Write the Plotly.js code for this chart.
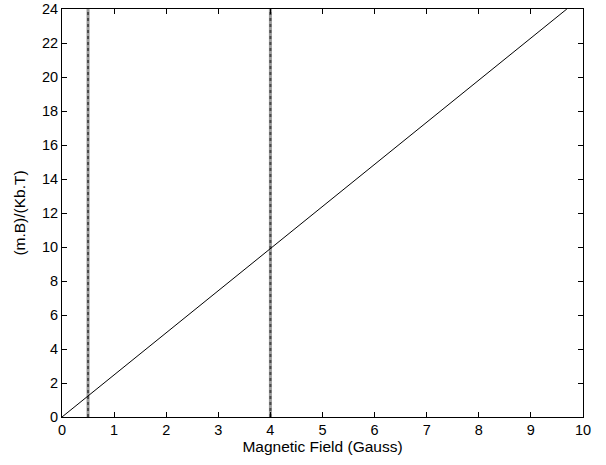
<!DOCTYPE html>
<html>
<head>
<meta charset="utf-8">
<script src="https://cdn.plot.ly/plotly-3.0.1.min.js"></script>
<style>html,body{margin:0;padding:0;background:#fff;}#chart{width:606px;height:465px;}</style>
</head>
<body>
<div id="chart"></div>
<script>
// Data
const fieldX = [0, 1, 2, 3, 4, 5, 6, 7, 8, 9, 9.69];
const ratioY = [0, 2.48, 4.95, 7.43, 9.9, 12.38, 14.86, 17.34, 19.82, 22.3, 24];
const markerFields = [0.5, 4];
const yTop = 24;
const xTicks = [0, 1, 2, 3, 4, 5, 6, 7, 8, 9, 10];
const yTicks = [0, 2, 4, 6, 8, 10, 12, 14, 16, 18, 20, 22, 24];

const traces = [];
markerFields.forEach(f => {
  traces.push({x: [f, f], y: [0, yTop], mode: 'lines', line: {color: '#9a9a9a', width: 3}, hoverinfo: 'skip', showlegend: false});
  traces.push({x: [f, f], y: [0, yTop], mode: 'lines', line: {color: '#4a4a4a', width: 2, dash: 'dot'}, hoverinfo: 'skip', showlegend: false});
});
traces.push({x: fieldX, y: ratioY, mode: 'lines', line: {color: '#000', width: 1}, showlegend: false});

const tickFont = {family: 'Liberation Sans, Arial, sans-serif', size: 14.5, color: '#000'};
const titleFont = {family: 'Liberation Sans, Arial, sans-serif', size: 15.5, color: '#000'};
const layout = {
  width: 606, height: 465,
  margin: {l: 62, r: 23, t: 9, b: 48},
  paper_bgcolor: '#fff', plot_bgcolor: '#fff',
  font: tickFont,
  showlegend: false,
  xaxis: {
    range: [0, 10], tickvals: xTicks, ticktext: xTicks.map(String),
    ticks: 'inside', ticklen: 5, tickcolor: '#000', mirror: 'allticks',
    showline: true, linecolor: '#000', linewidth: 1, showgrid: false, zeroline: false,
    tickfont: tickFont, ticklabeloverflow: 'allow',
    title: {text: 'Magnetic Field (Gauss)', font: titleFont, standoff: 2}
  },
  yaxis: {
    range: [0, 24], tickvals: yTicks, ticktext: yTicks.map(String),
    ticks: 'inside', ticklen: 5, tickcolor: '#000', mirror: 'allticks',
    showline: true, linecolor: '#000', linewidth: 1, showgrid: false, zeroline: false,
    tickfont: tickFont, ticklabeloverflow: 'allow',
    title: {text: '(m.B)/(Kb.T)', font: titleFont, standoff: 12}
  }
};
Plotly.newPlot('chart', traces, layout, {displayModeBar: false, staticPlot: true});
</script>
</body>
</html>
